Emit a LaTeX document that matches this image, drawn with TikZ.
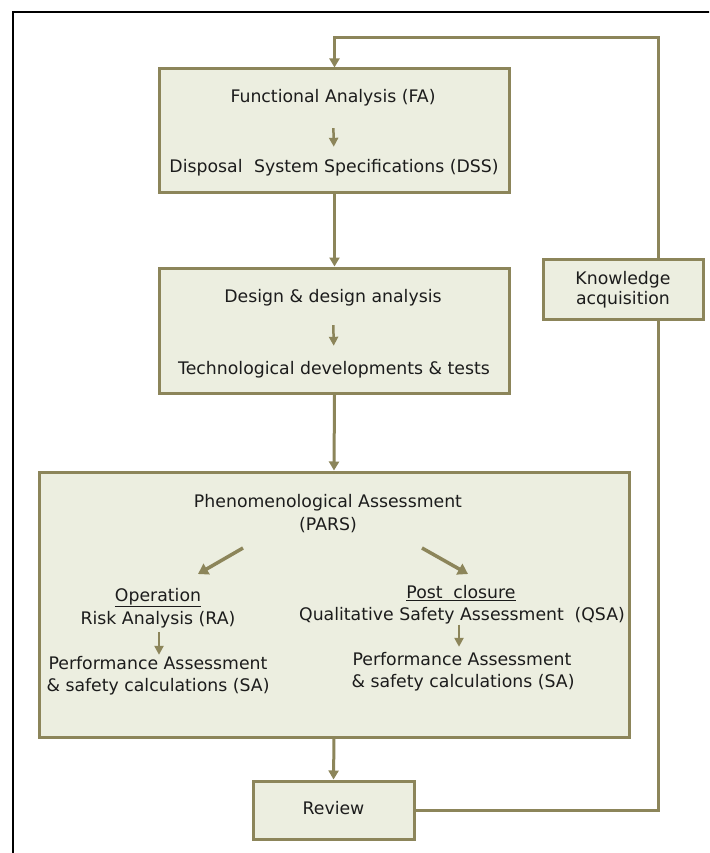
\documentclass[tikz,border=0pt]{standalone}
\usepackage{fontspec}
\setmainfont{DejaVu Sans}
\usetikzlibrary{arrows.meta}
\definecolor{olv}{RGB}{140,133,90}
\definecolor{boxfill}{RGB}{236,238,224}
\definecolor{txt}{RGB}{28,28,28}
\begin{document}
\begin{tikzpicture}[x=1pt,y=-1pt,
  box/.style={draw=olv, fill=boxfill, line width=3pt, inner sep=0pt},
  lbl/.style={inner sep=0pt, text=txt, font=\fontsize{17.3}{21}\selectfont, text height=13pt, text depth=4pt},
  lbltwo/.style={inner sep=0pt, text=txt, font=\fontsize{17.3}{21}\selectfont, align=center},
  flow/.style={draw=olv, line width=3pt, -{Triangle[width=10pt,length=9pt]}},
  plain/.style={draw=olv, line width=3pt},
  smallarr/.style={draw=olv, line width=2.5pt, -{Triangle[width=9pt,length=9pt]}},
  diagarr/.style={draw=olv, line width=3.5pt, -{Triangle[width=12pt,length=10pt]}},
]
\fill[white] (0,0) rectangle (709,853);
\useasboundingbox (0,0) rectangle (709,853);
\begin{scope}
\clip (0,0) rectangle (709,853);
\draw[black, line width=2.5pt] (13,870) -- (13,12) -- (730,12);
\end{scope}

% boxes
\node[box, minimum width=350, minimum height=123] (b1) at (334.5,130.5) {};
\node[box, minimum width=350, minimum height=125] (b2) at (334.5,330.5) {};
\node[box, minimum width=590, minimum height=265] (b3) at (334,604.5) {};
\node[box, minimum width=161, minimum height=58] (rev) at (333.5,810) {};
\node[box, minimum width=160, minimum height=60] (ka) at (623,289) {};

% box 1 texts
\node[lbl] (fa) at (333,98) {Functional Analysis (FA)};
\node[lbl] (dss) at (334,168) {Disposal\hspace{0.35em} System Specifications (DSS)};
\draw[smallarr, shorten <=21.5pt, shorten >=12.5pt] (fa.south) -- (dss.north);

% box 2 texts
\node[lbl] (dda) at (333,298) {Design \& design analysis};
\node[lbl] (tdt) at (334,370) {Technological developments \& tests};
\draw[smallarr, shorten <=18.5pt, shorten >=15.5pt] (dda.south) -- (tdt.north);

% box 3 texts
\node[lbl] (pa) at (328,503) {Phenomenological Assessment};
\node[lbl] (pars) at (328,526) {(PARS)};
\coordinate (dls) at (243,548);
\coordinate (dle) at (198,574);
\coordinate (drs) at (422,548);
\coordinate (dre) at (468,574);
\draw[diagarr] (dls) -- (dle);
\draw[diagarr] (drs) -- (dre);

\node[lbl] (op) at (158,597) {\underline{Operation}};
\node[lbl] (ra) at (158,620) {Risk Analysis (RA)};
\node[lbl] (pl1) at (158,665) {Performance Assessment};
\node[lbl] (pl2) at (158,687) {\& safety calculations (SA)};
\draw[smallarr, shorten <=3.5pt, shorten >=1.5pt] (ra.south -| 159,0) -- (pl1.north -| 159,0);

\node[lbl] (pc) at (461,594) {\underline{Post\hspace{0.3em} closure}};
\node[lbl] (qsa) at (462,616) {Qualitative Safety Assessment\hspace{0.3em} (QSA)};
\node[lbl] (pr1) at (462,661) {Performance Assessment};
\node[lbl] (pr2) at (463,683) {\& safety calculations (SA)};
\draw[smallarr, shorten >=5.5pt] (qsa.south -| 459,0) -- (pr1.north -| 459,0);

% review / knowledge texts
\node[lbl] (revt) at (333.5,810) {Review};
\node[lbltwo, font=\fontsize{17.3}{20}\selectfont] (kat) at (623,290) {Knowledge\\acquisition};

% main flow
\draw[flow] (b1.south) -- (b2.north);
\draw[flow] (b2.south) -- (b3.north);
\draw[flow] (b3.south) -- (rev.north);

% feedback loop
\coordinate (fbR) at (658,810);
\coordinate (fbT) at (658,38);
\draw[plain] (rev.east) -- (fbR) -- (fbR |- ka.south);
\draw[flow] (fbR |- ka.north) -- (fbT) -| (b1.north);
\end{tikzpicture}
\end{document}
